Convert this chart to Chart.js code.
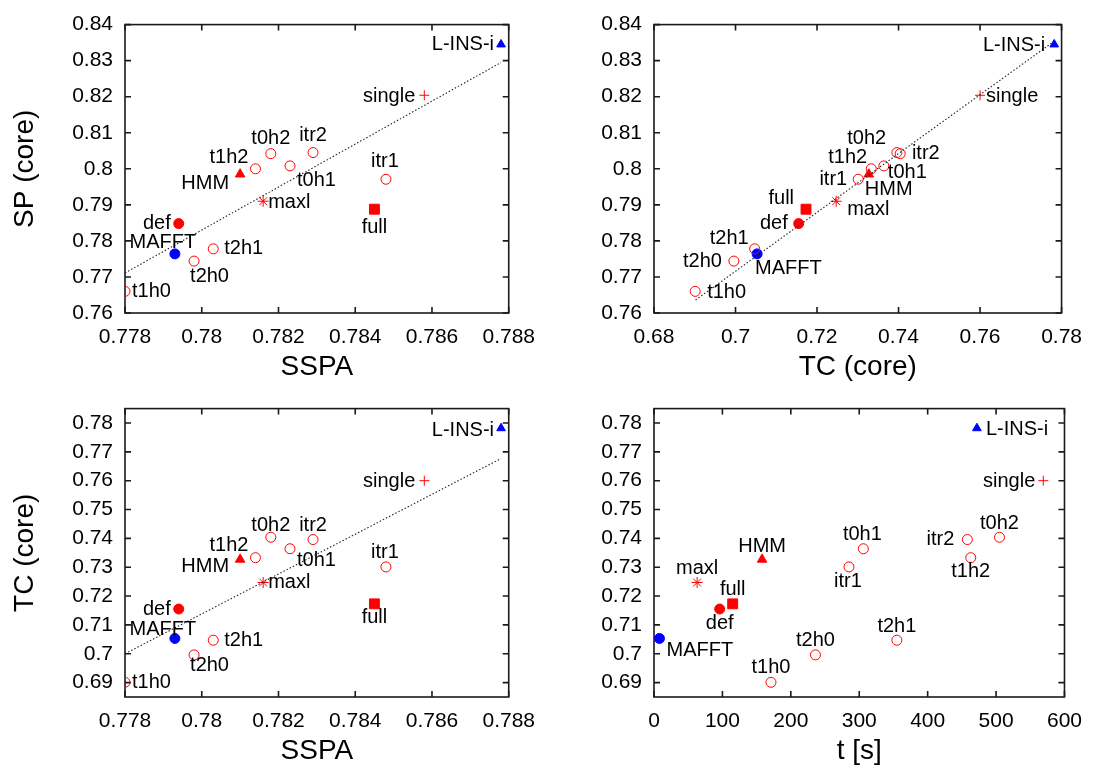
<!DOCTYPE html>
<html>
<head>
<meta charset="utf-8">
<script src="https://cdn.jsdelivr.net/npm/chart.js@4/dist/chart.umd.min.js"></script>
<style>
  html, body { margin: 0; padding: 0; background: #fff; }
  #wrap { position: relative; width: 1094px; height: 768px; }
  canvas { position: absolute; }
</style>
</head>
<body>
<div id="wrap">
  <canvas id="p1" width="547" height="384" style="left:0;top:0"></canvas>
  <canvas id="p2" width="547" height="384" style="left:547px;top:0"></canvas>
  <canvas id="p3" width="547" height="384" style="left:0;top:384px"></canvas>
  <canvas id="p4" width="547" height="384" style="left:547px;top:384px"></canvas>
</div>
<script>
// values, one entry per method
const methods = ['L-INS-i', 'single', 't0h2', 'itr2', 't1h2', 't0h1', 'HMM', 'itr1', 'maxl', 'full', 'def', 'MAFFT', 't2h1', 't2h0', 't1h0'];
const sspa    = [0.7878, 0.7858, 0.7818, 0.7829, 0.7814, 0.7823, 0.7810, 0.7848, 0.7816, 0.7845, 0.7794, 0.7793, 0.7803, 0.7798, 0.7780];
const spCore  = [0.8345, 0.8204, 0.8042, 0.8045, 0.8000, 0.8008, 0.7985, 0.7971, 0.7910, 0.7888, 0.7848, 0.7764, 0.7778, 0.7744, 0.7660];
const tcCore  = [0.7782, 0.7600, 0.7404, 0.7396, 0.7333, 0.7364, 0.7327, 0.7301, 0.7247, 0.7173, 0.7155, 0.7053, 0.7047, 0.6996, 0.6901];
const timeSec = [472, 569, 505, 458, 463, 306, 158, 285, 63, 115, 96, 8, 355, 236, 171];

// dotted fit lines (end points)
const fitSpSspaX = [0.7780, 0.7878], fitSpSspaY = [0.7711, 0.8295];
const fitSpTcX   = [0.6902, 0.7782], fitSpTcY   = [0.7636, 0.8354];
const fitTcSspaX = [0.7780, 0.7878], fitTcSspaY = [0.7000, 0.7677];

// tick values
const sspaTicks = [0.778, 0.780, 0.782, 0.784, 0.786, 0.788];
const tcXTicks  = [0.68, 0.70, 0.72, 0.74, 0.76, 0.78];
const timeTicks = [0, 100, 200, 300, 400, 500, 600];
const spTicks   = [0.76, 0.77, 0.78, 0.79, 0.80, 0.81, 0.82, 0.83, 0.84];
const tcYTicks  = [0.69, 0.70, 0.71, 0.72, 0.73, 0.74, 0.75, 0.76, 0.77, 0.78];

// marker style per method
const RED = '#ff0000', BLUE = '#0000ff', NONE = 'rgba(0,0,0,0)';
const ring = { shape: 'circle', r: 5, fill: NONE, line: RED };
const marks = [
  { shape: 'triangle', r: 5, fill: BLUE, line: BLUE },
  { shape: 'cross', r: 5, fill: NONE, line: RED },
  ring, ring, ring, ring,
  { shape: 'triangle', r: 5.5, fill: RED, line: RED },
  ring,
  { shape: 'star', r: 5.5, fill: NONE, line: RED },
  { shape: 'rect', r: 7, fill: RED, line: RED },
  { shape: 'circle', r: 5, fill: RED, line: RED },
  { shape: 'circle', r: 5, fill: BLUE, line: BLUE },
  ring, ring, ring
];

// label placement per panel: [textAlign, dx, dy]
const place1 = [['right',-7,0],['right',-9,1],['center',0,-15],['center',0,-17],['right',-7,-11],['left',7,15],['right',-11,9],
  ['center',-1,-18],['left',5,1],['center',0,18],['right',-8,0],['center',-12,-11],['left',11,0],['left',-4,15],['left',7,0]];
const place2 = [['right',-9,1],['left',6,1],['right',-14,-15],['left',15,1],['right',-4,-11],['left',4,7],['left',-4,15],
  ['right',-11,0],['left',11,8],['right',-12,-11],['right',-11,0],['left',-2,15],['right',-6,-10],['right',-12,0],['left',12,1]];
const place3 = [['right',-7,2],['right',-9,1],['center',0,-12],['center',0,-14],['right',-7,-12],['left',7,12],['right',-11,7],
  ['center',-1,-14],['left',5,0],['center',0,14],['right',-8,0],['center',-12,-9],['left',11,0],['left',-4,11],['left',7,0]];
const place4 = [['left',9,1],['right',-8,1],['center',0,-14],['right',-13,0],['center',0,14],['center',-1,-14],['center',0,-13],
  ['center',-1,15],['center',0,-14],['center',0,-14],['center',0,14],['left',7,12],['center',0,-14],['center',0,-14],['center',0,-15]];

const FONT = '"Liberation Sans", Arial, Helvetica, sans-serif';

const framePlugin = {
  id: 'frame',
  beforeDatasetsDraw(chart) {
    const { ctx, chartArea: a, scales: { x, y } } = chart;
    ctx.save();
    ctx.strokeStyle = '#1a1a1a';
    ctx.lineWidth = 1.6;
    ctx.strokeRect(a.left, a.top, a.right - a.left, a.bottom - a.top);
    ctx.beginPath();
    x.ticks.forEach(t => {
      const px = x.getPixelForValue(t.value);
      ctx.moveTo(px, a.bottom); ctx.lineTo(px, a.bottom - 6);
      ctx.moveTo(px, a.top); ctx.lineTo(px, a.top + 6);
    });
    y.ticks.forEach(t => {
      const py = y.getPixelForValue(t.value);
      ctx.moveTo(a.left, py); ctx.lineTo(a.left + 6, py);
      ctx.moveTo(a.right, py); ctx.lineTo(a.right - 6, py);
    });
    ctx.stroke();
    ctx.restore();
  }
};

const labelPlugin = {
  id: 'pointNames',
  afterDatasetsDraw(chart, args, opts) {
    const { ctx } = chart;
    const meta = chart.getDatasetMeta(1);
    ctx.save();
    ctx.font = '20px ' + FONT;
    ctx.fillStyle = '#000';
    ctx.textBaseline = 'middle';
    meta.data.forEach((el, i) => {
      const [align, dx, dy] = opts.place[i];
      ctx.textAlign = align;
      ctx.fillText(methods[i], el.x + dx, el.y + dy);
    });
    ctx.restore();
  }
};

const fmt = v => String(Number(v.toFixed(4)));

function panel(id, o) {
  const pts = methods.map((m, i) => ({ x: o.x[i], y: o.y[i] }));
  const fit = o.fitX ? o.fitX.map((v, i) => ({ x: v, y: o.fitY[i] })) : [];
  return new Chart(document.getElementById(id), {
    type: 'scatter',
    data: {
      datasets: [
        { data: fit, showLine: true, borderColor: '#222', borderWidth: 1.1, borderDash: [1.5, 2], pointRadius: 0 },
        {
          data: pts,
          pointStyle: marks.map(s => s.shape),
          pointRadius: marks.map(s => s.r),
          backgroundColor: marks.map(s => s.fill),
          borderColor: marks.map(s => s.line),
          borderWidth: 1
        }
      ]
    },
    options: {
      responsive: false,
      animation: false,
      layout: { padding: { top: 23, right: o.right, left: 0, bottom: 0 } },
      plugins: { legend: { display: false }, tooltip: { enabled: false }, pointNames: { place: o.place } },
      scales: {
        x: {
          type: 'linear', min: o.xMin, max: o.xMax,
          afterBuildTicks: s => { s.ticks = o.xTicks.map(v => ({ value: v })); },
          afterFit: s => { s.height = 71; },
          grid: { display: false, drawTicks: false },
          border: { display: false },
          ticks: { padding: 12, color: '#000', font: { family: FONT, size: 21 }, callback: fmt, maxRotation: 0, autoSkip: false },
          title: { display: true, text: o.xTitle, color: '#000', font: { family: FONT, size: 28 }, padding: { top: 0, bottom: 0 } }
        },
        y: {
          type: 'linear', min: o.yMin, max: o.yMax,
          afterBuildTicks: s => { s.ticks = o.yTicks.map(v => ({ value: v })); },
          afterFit: s => { s.width = o.left; },
          grid: { display: false, drawTicks: false },
          border: { display: false },
          ticks: { padding: 12, color: '#000', font: { family: FONT, size: 21 }, callback: fmt, autoSkip: false },
          title: { display: !!o.yTitle, text: o.yTitle || '', color: '#000', font: { family: FONT, size: 28 }, padding: { top: 8, bottom: 0 } }
        }
      }
    },
    plugins: [framePlugin, labelPlugin]
  });
}

panel('p1', { x: sspa, y: spCore, xMin: 0.778, xMax: 0.788, yMin: 0.76, yMax: 0.84, xTicks: sspaTicks, yTicks: spTicks,
  fitX: fitSpSspaX, fitY: fitSpSspaY, xTitle: 'SSPA', yTitle: 'SP (core)', left: 125, right: 27, place: place1 });
panel('p2', { x: tcCore, y: spCore, xMin: 0.68, xMax: 0.78, yMin: 0.76, yMax: 0.84, xTicks: tcXTicks, yTicks: spTicks,
  fitX: fitSpTcX, fitY: fitSpTcY, xTitle: 'TC (core)', left: 107, right: 25, place: place2 });
panel('p3', { x: sspa, y: tcCore, xMin: 0.778, xMax: 0.788, yMin: 0.685, yMax: 0.785, xTicks: sspaTicks, yTicks: tcYTicks,
  fitX: fitTcSspaX, fitY: fitTcSspaY, xTitle: 'SSPA', yTitle: 'TC (core)', left: 125, right: 27, place: place3 });
panel('p4', { x: timeSec, y: tcCore, xMin: 0, xMax: 600, yMin: 0.685, yMax: 0.785, xTicks: timeTicks, yTicks: tcYTicks,
  xTitle: 't [s]', left: 107, right: 25, place: place4 });
</script>
</body>
</html>
